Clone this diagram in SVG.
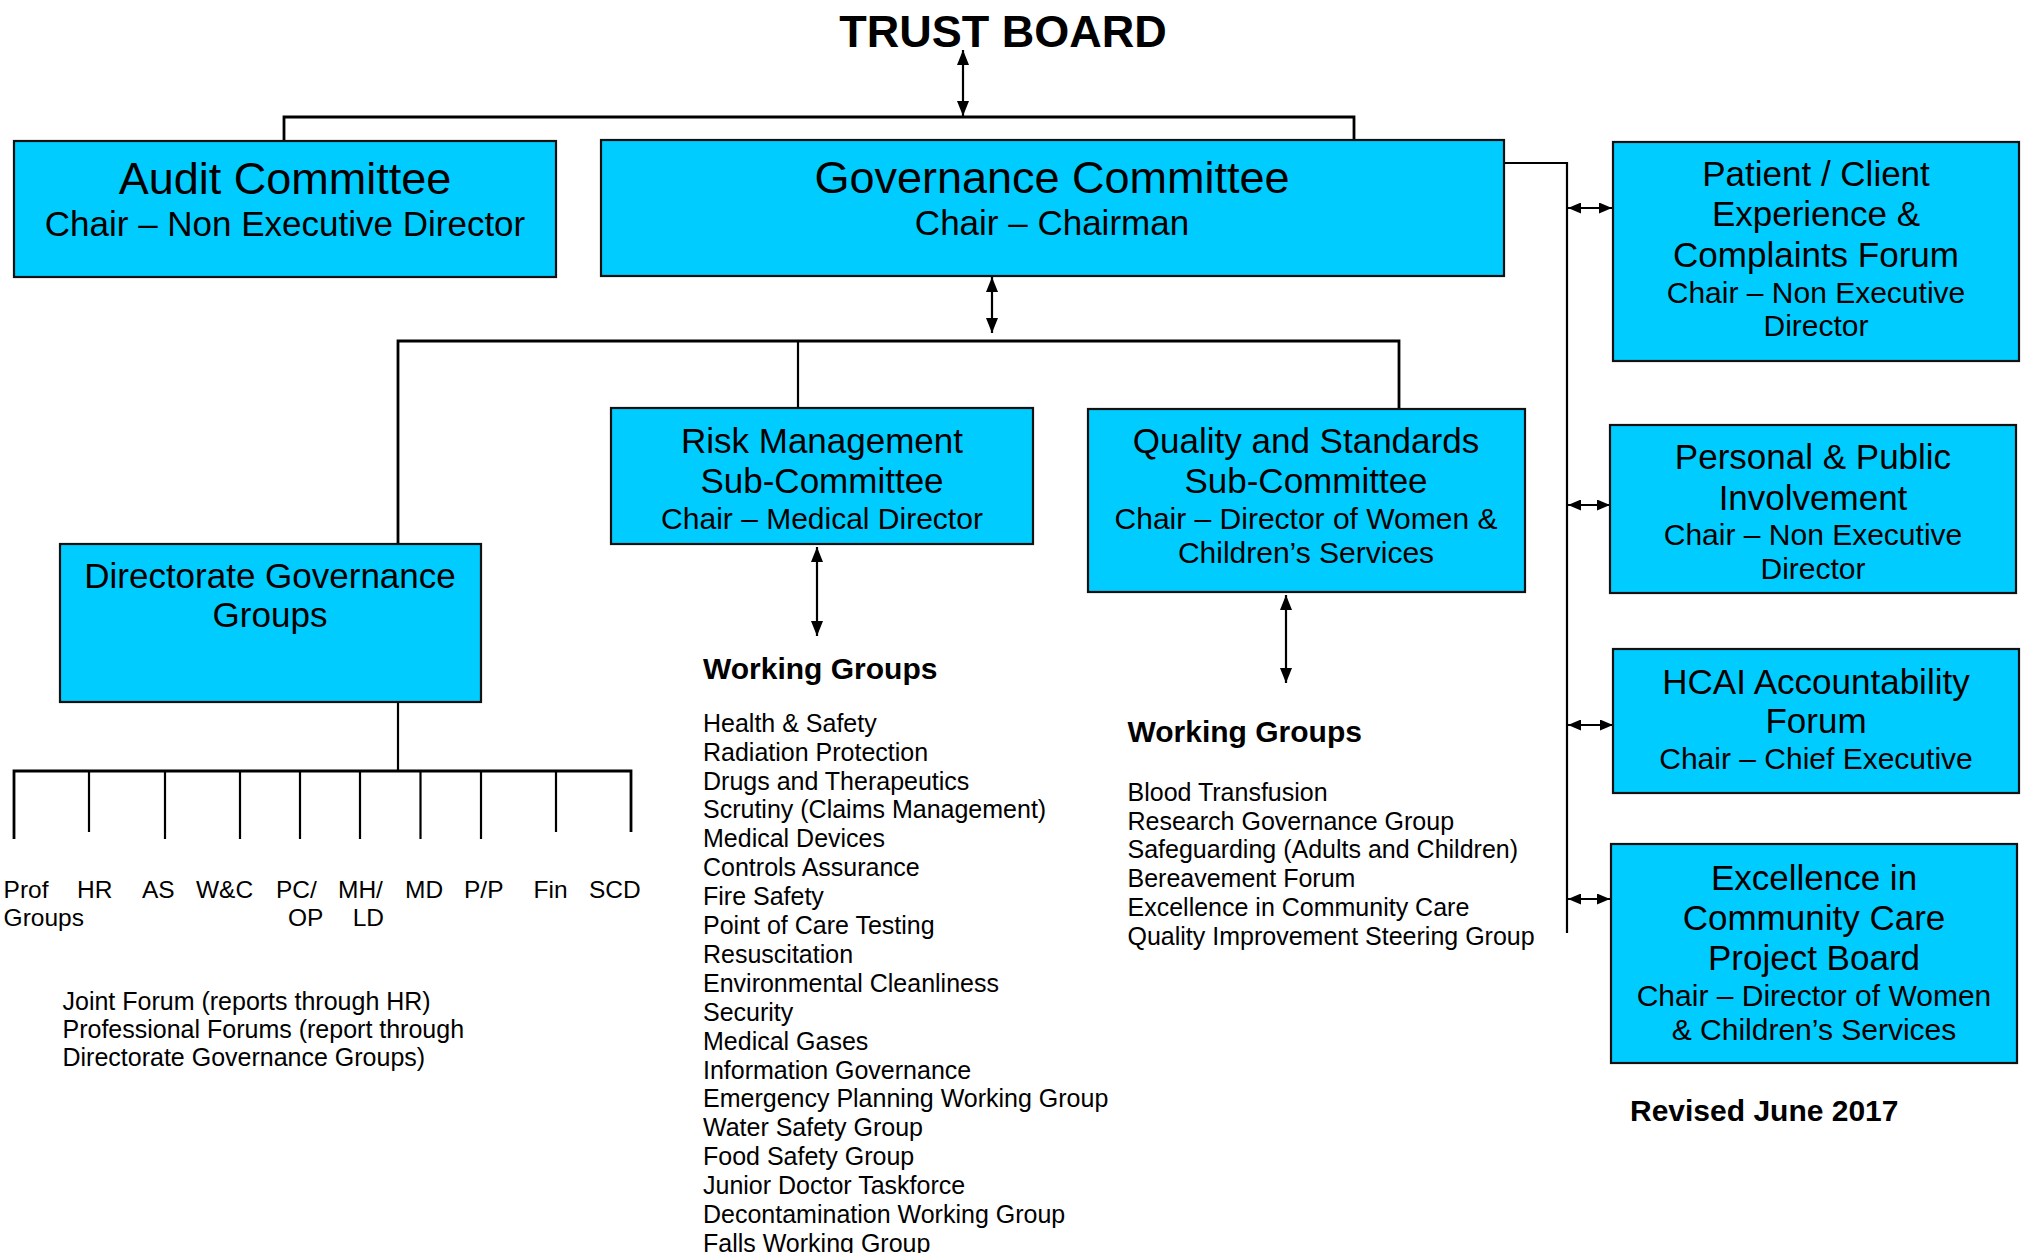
<svg xmlns="http://www.w3.org/2000/svg" width="2022" height="1253" viewBox="0 0 2022 1253">
<style>
text{font-family:"Liberation Sans",Arial,sans-serif;fill:#000}
.box{fill:#00CCFF;stroke:#111;stroke-width:2.2}
.h44{font-size:45px;text-anchor:middle}
.h35{font-size:35px;text-anchor:middle}
.s35{font-size:35px;text-anchor:middle}
.s30{font-size:30px;text-anchor:middle}
.lst{font-size:25px}
.lbl{font-size:24.5px}
.bold{font-weight:bold}
.ln{stroke:#000;stroke-width:2.2;fill:none}
.bus{stroke:#000;stroke-width:2.8;fill:none}
</style>
<defs>
<marker id="ah" viewBox="0 0 15 12" markerUnits="userSpaceOnUse" markerWidth="15" markerHeight="12" refX="15" refY="6" orient="auto-start-reverse"><path d="M0,0 L15,6 L0,12 z" fill="#000"/></marker>
<marker id="as" viewBox="0 0 13 11" markerUnits="userSpaceOnUse" markerWidth="13" markerHeight="11" refX="13" refY="5.5" orient="auto-start-reverse"><path d="M0,0 L13,5.5 L0,11 z" fill="#000"/></marker>
</defs>

<g id="title"><text x="1003" y="46.5" class="bold" font-size="45" text-anchor="middle">TRUST BOARD</text></g>

<g id="connectors">
<line class="ln" x1="963" y1="50" x2="963" y2="116" marker-start="url(#ah)" marker-end="url(#ah)"/>
<path class="bus" d="M284,141 V117 H1354 V140"/>
<line class="ln" x1="992" y1="277" x2="992" y2="333" marker-start="url(#ah)" marker-end="url(#ah)"/>
<path class="bus" d="M398,544 V341 H1399 V409"/>
<line class="ln" x1="798" y1="341" x2="798" y2="408"/>
<line class="ln" x1="817" y1="547" x2="817" y2="636" marker-start="url(#ah)" marker-end="url(#ah)"/>
<line class="ln" x1="1286" y1="595" x2="1286" y2="683" marker-start="url(#ah)" marker-end="url(#ah)"/>
<path class="ln" d="M1504,163 H1567 V933"/>
<line class="ln" x1="1568" y1="208" x2="1612" y2="208" marker-start="url(#as)" marker-end="url(#as)"/>
<line class="ln" x1="1568" y1="505" x2="1610" y2="505" marker-start="url(#as)" marker-end="url(#as)"/>
<line class="ln" x1="1568" y1="725" x2="1613" y2="725" marker-start="url(#as)" marker-end="url(#as)"/>
<line class="ln" x1="1568" y1="899" x2="1610" y2="899" marker-start="url(#as)" marker-end="url(#as)"/>
<line class="ln" x1="398" y1="702" x2="398" y2="771"/>
<path class="bus" d="M14,839 V771 H631 V832"/>
<line class="ln" x1="89" y1="771" x2="89" y2="832"/>
<line class="ln" x1="165" y1="771" x2="165" y2="839"/>
<line class="ln" x1="240" y1="771" x2="240" y2="839"/>
<line class="ln" x1="300" y1="771" x2="300" y2="839"/>
<line class="ln" x1="360" y1="771" x2="360" y2="839"/>
<line class="ln" x1="420.5" y1="771" x2="420.5" y2="839"/>
<line class="ln" x1="481" y1="771" x2="481" y2="839"/>
<line class="ln" x1="556" y1="771" x2="556" y2="832"/>
</g>

<g id="audit">
<rect class="box" x="14" y="141" width="542" height="136"/>
<text class="h44" x="285" y="194">Audit Committee</text>
<text class="s35" x="285" y="236">Chair – Non Executive Director</text>
</g>

<g id="governance">
<rect class="box" x="601" y="140" width="903" height="136"/>
<text class="h44" x="1052" y="193">Governance Committee</text>
<text class="s35" x="1052" y="234.5">Chair – Chairman</text>
</g>

<g id="patient">
<rect class="box" x="1613" y="142" width="406" height="219"/>
<text class="h35" x="1816" y="185.5">Patient / Client</text>
<text class="h35" x="1816" y="226">Experience &amp;</text>
<text class="h35" x="1816" y="266.5">Complaints Forum</text>
<text class="s30" x="1816" y="302.5">Chair – Non Executive</text>
<text class="s30" x="1816" y="336">Director</text>
</g>

<g id="personal">
<rect class="box" x="1610" y="425" width="406" height="168"/>
<text class="h35" x="1813" y="468.5">Personal &amp; Public</text>
<text class="h35" x="1813" y="509.5">Involvement</text>
<text class="s30" x="1813" y="544.5">Chair – Non Executive</text>
<text class="s30" x="1813" y="578.5">Director</text>
</g>

<g id="hcai">
<rect class="box" x="1613" y="649" width="406" height="144"/>
<text class="h35" x="1816" y="693.5">HCAI Accountability</text>
<text class="h35" x="1816" y="733">Forum</text>
<text class="s30" x="1816" y="768.5">Chair – Chief Executive</text>
</g>

<g id="excellence">
<rect class="box" x="1611" y="844" width="406" height="219"/>
<text class="h35" x="1814" y="889.5">Excellence in</text>
<text class="h35" x="1814" y="929.5">Community Care</text>
<text class="h35" x="1814" y="969.5">Project Board</text>
<text class="s30" x="1814" y="1006">Chair – Director of Women</text>
<text class="s30" x="1814" y="1039.5">&amp; Children’s Services</text>
</g>

<g id="risk">
<rect class="box" x="611" y="408" width="422" height="136"/>
<text class="h35" x="822" y="452.5">Risk Management</text>
<text class="h35" x="822" y="492.5">Sub-Committee</text>
<text class="s30" x="822" y="528.5">Chair – Medical Director</text>
</g>

<g id="quality">
<rect class="box" x="1088" y="409" width="437" height="183"/>
<text class="h35" x="1306" y="452.5">Quality and Standards</text>
<text class="h35" x="1306" y="493">Sub-Committee</text>
<text class="s30" x="1306" y="529">Chair – Director of Women &amp;</text>
<text class="s30" x="1306" y="563">Children’s Services</text>
</g>

<g id="directorate">
<rect class="box" x="60" y="544" width="421" height="158"/>
<text class="h35" x="270" y="587.5">Directorate Governance</text>
<text class="h35" x="270" y="626.5">Groups</text>
</g>

<g id="directorate-groups">
<text class="lbl" x="3.6" y="897.5">Prof</text>
<text class="lbl" x="3.6" y="925.5">Groups</text>
<text class="lbl" x="77" y="897.5">HR</text>
<text class="lbl" x="142" y="897.5">AS</text>
<text class="lbl" x="196" y="897.5">W&amp;C</text>
<text class="lbl" x="276" y="897.5">PC/</text>
<text class="lbl" x="288" y="925.5">OP</text>
<text class="lbl" x="338" y="897.5">MH/</text>
<text class="lbl" x="352.7" y="925.5">LD</text>
<text class="lbl" x="405" y="897.5">MD</text>
<text class="lbl" x="464" y="897.5">P/P</text>
<text class="lbl" x="533.5" y="897.5">Fin</text>
<text class="lbl" x="589" y="897.5">SCD</text>
</g>

<g id="forums">
<text class="lst" x="62.5" y="1009.5">Joint Forum (reports through HR)</text>
<text class="lst" x="62.5" y="1038">Professional Forums (report through</text>
<text class="lst" x="62.5" y="1066">Directorate Governance Groups)</text>
</g>

<g id="risk-working-groups">
<text class="bold" font-size="30" x="703" y="678.5">Working Groups</text>
<text class="lst" x="703" y="731.7">Health &amp; Safety</text>
<text class="lst" x="703" y="760.6">Radiation Protection</text>
<text class="lst" x="703" y="789.5">Drugs and Therapeutics</text>
<text class="lst" x="703" y="818.4">Scrutiny (Claims Management)</text>
<text class="lst" x="703" y="847.3">Medical Devices</text>
<text class="lst" x="703" y="876.2">Controls Assurance</text>
<text class="lst" x="703" y="905.1">Fire Safety</text>
<text class="lst" x="703" y="934">Point of Care Testing</text>
<text class="lst" x="703" y="962.9">Resuscitation</text>
<text class="lst" x="703" y="991.8">Environmental Cleanliness</text>
<text class="lst" x="703" y="1020.7">Security</text>
<text class="lst" x="703" y="1049.6">Medical Gases</text>
<text class="lst" x="703" y="1078.5">Information Governance</text>
<text class="lst" x="703" y="1107.4">Emergency Planning Working Group</text>
<text class="lst" x="703" y="1136.3">Water Safety Group</text>
<text class="lst" x="703" y="1165.2">Food Safety Group</text>
<text class="lst" x="703" y="1194.1">Junior Doctor Taskforce</text>
<text class="lst" x="703" y="1223">Decontamination Working Group</text>
<text class="lst" x="703" y="1251.9">Falls Working Group</text>
</g>

<g id="quality-working-groups">
<text class="bold" font-size="30" x="1127.5" y="741.5">Working Groups</text>
<text class="lst" x="1127.5" y="801">Blood Transfusion</text>
<text class="lst" x="1127.5" y="829.7">Research Governance Group</text>
<text class="lst" x="1127.5" y="858.4">Safeguarding (Adults and Children)</text>
<text class="lst" x="1127.5" y="887.1">Bereavement Forum</text>
<text class="lst" x="1127.5" y="915.8">Excellence in Community Care</text>
<text class="lst" x="1127.5" y="944.5">Quality Improvement Steering Group</text>
</g>

<g id="revised"><text class="bold" font-size="30" x="1630" y="1120.5">Revised June 2017</text></g>
</svg>
